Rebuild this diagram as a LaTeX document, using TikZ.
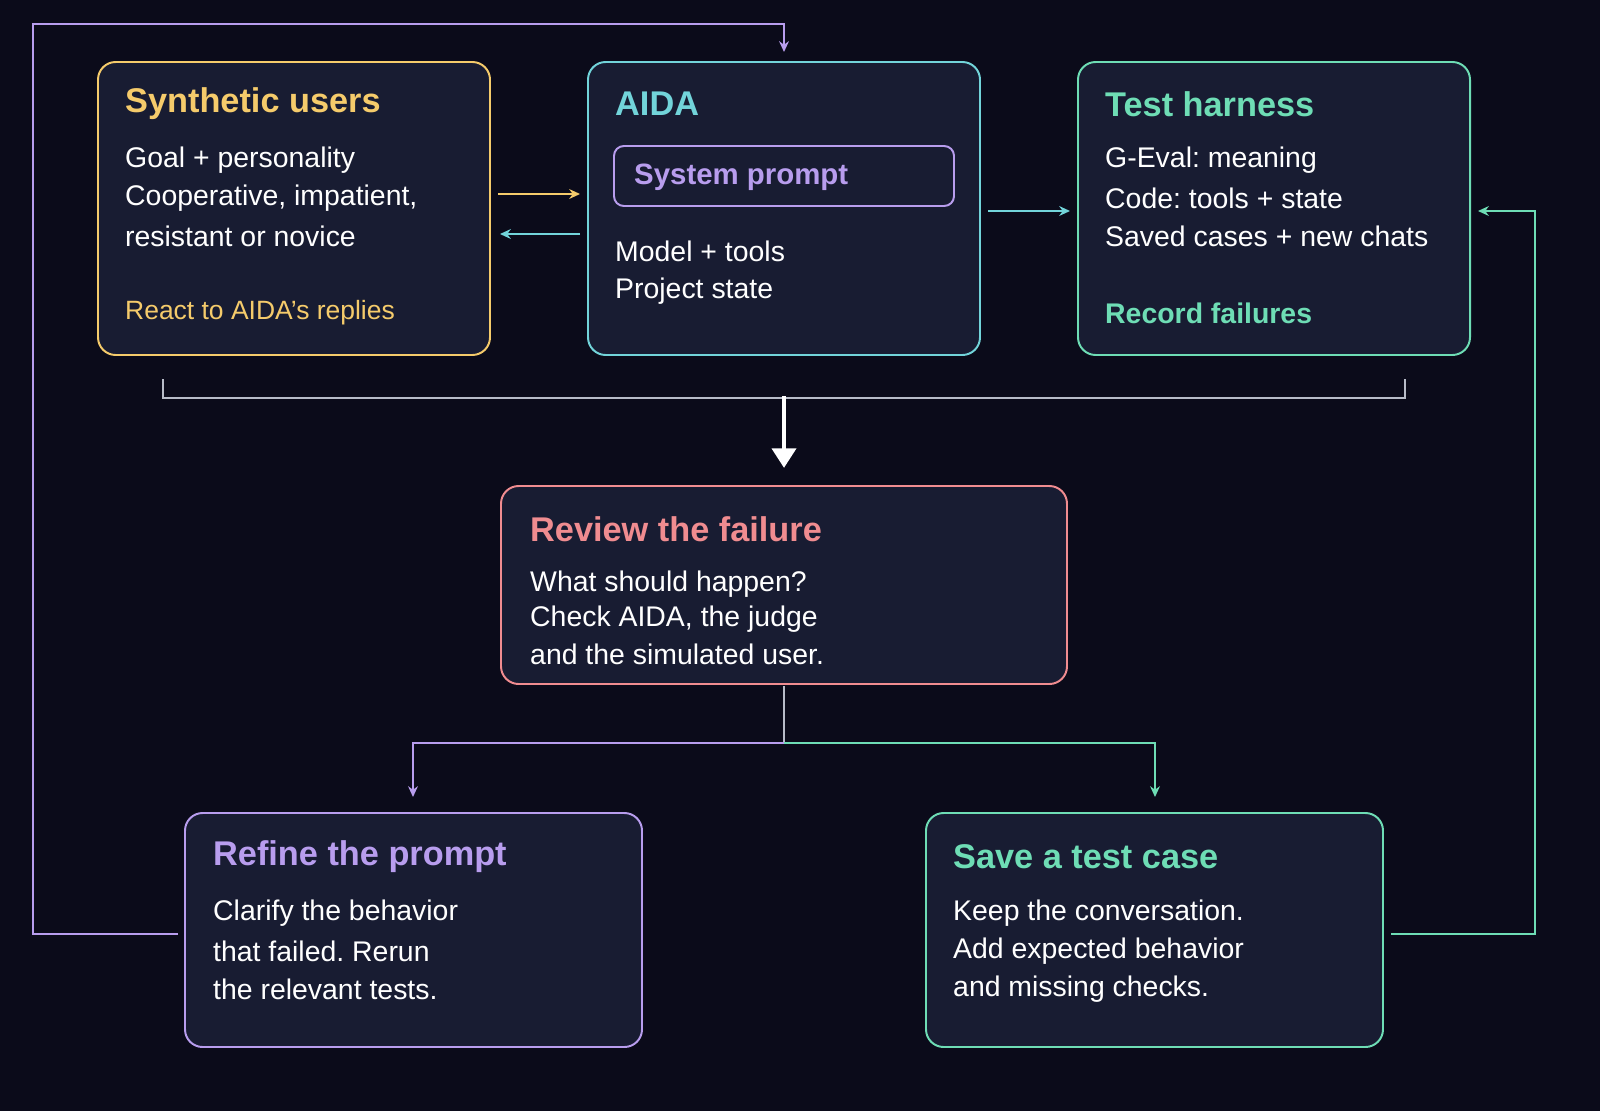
\documentclass[tikz,border=0pt]{standalone}
\usepackage{fontspec}
\setmainfont{Liberation Sans}
\frenchspacing
\usetikzlibrary{arrows.meta}
\definecolor{bg}{HTML}{0B0B1A}
\definecolor{boxf}{HTML}{181C32}
\definecolor{cy}{HTML}{F5CB6B}
\definecolor{ct}{HTML}{72D4DA}
\definecolor{cp}{HTML}{B89DEE}
\definecolor{cg}{HTML}{6EDDB5}
\definecolor{cr}{HTML}{F08C90}
\definecolor{cgray}{HTML}{B8BCC8}
\begin{document}
\begin{tikzpicture}[x=1.0204pt,y=-1.0204pt,
 box/.style={draw=#1,line width=2pt,rounded corners=18pt,fill=boxf},
 ttl/.style={anchor=west,font=\fontsize{35}{40}\selectfont\bfseries,inner sep=0},
 txt/.style={anchor=west,font=\fontsize{29}{33}\selectfont,text=white,inner sep=0},
 con/.style={line width=2.2pt},
 arr/.style={con,-{Stealth[length=11pt,width=10pt]}}]
\fill[bg] (0,0) rectangle (1600,1111);
% boxes
\draw[box=cy] (98,62) rectangle (490,355); \node (su) at (294,208) {};
\draw[box=ct] (588,62) rectangle (980,355); \node (ai) at (784,208) {};
\draw[box=cg] (1078,62) rectangle (1470,355); \node (th) at (1274,208) {};
\draw[box=cr] (501,486) rectangle (1067,684); \node (rv) at (784,585) {};
\draw[box=cp] (185,813) rectangle (642,1047); \node (rf) at (413,930) {};
\draw[box=cg] (926,813) rectangle (1383,1047); \node (sv) at (1155,930) {};
\draw[draw=cp,line width=2pt,rounded corners=10pt,fill=boxf] (614,146) rectangle (954,206);
% texts
\node[ttl,text=cy] (t1) at (125,104) {Synthetic users};
\node[txt] (a1) at (125,160) {Goal + personality};
\node[txt] (a2) at (125,198) {Cooperative, impatient,};
\node[txt] (a3) at (125,236) {resistant or novice};
\node[txt,text=cy,font=\fontsize{27}{30}\selectfont] (a4) at (125,313) {React to AIDA’s replies};
\node[ttl,text=ct] (t2) at (615,104) {AIDA};
\node[ttl,text=cp,font=\fontsize{30}{34}\selectfont\bfseries] (sp) at (634,177) {System prompt};
\node[txt] (b1) at (615,251) {Model + tools};
\node[txt] (b2) at (615,291) {Project state};
\node[ttl,text=cg] (t3) at (1105,104) {Test harness};
\node[txt] (c1) at (1105,160) {G-Eval: meaning};
\node[txt] (c2) at (1105,198) {Code: tools + state};
\node[txt] (c3) at (1105,236) {Saved cases + new chats};
\node[ttl,text=cg,font=\fontsize{29}{33}\selectfont\bfseries] (c4) at (1105,313) {Record failures};
\node[ttl,text=cr] (t4) at (530,529) {Review the failure};
\node[txt] (d1) at (530,584) {What should happen?};
\node[txt] (d2) at (530,619) {Check AIDA, the judge};
\node[txt] (d3) at (530,654) {and the simulated user.};
\node[ttl,text=cp] (t5) at (213,857) {Refine the prompt};
\node[txt] (e1) at (213,913) {Clarify the behavior};
\node[txt] (e2) at (213,951) {that failed. Rerun};
\node[txt] (e3) at (213,989) {the relevant tests.};
\node[ttl,text=cg] (t6) at (953,857) {Save a test case};
\node[txt] (f1) at (953,913) {Keep the conversation.};
\node[txt] (f2) at (953,951) {Add expected behavior};
\node[txt] (f3) at (953,989) {and missing checks.};
% connectors
\coordinate (y1) at (498,194); \coordinate (y2) at (580,194);
\draw[arr,cy] (y1) -- (y2);
\coordinate (t1a) at (580,234); \coordinate (t1b) at (500,234);
\draw[arr,ct] (t1a) -- (t1b);
\coordinate (h1) at (988,211); \coordinate (h2) at (1070,211);
\draw[arr,ct] (h1) -- (h2);
\coordinate (g1) at (163,379); \coordinate (g2) at (1405,379);
\draw[con,cgray] (g1) -- ++(0,19) -| (g2);
\coordinate (w1) at (784,396); \coordinate (w2) at (784,468);
\draw[line width=5pt,white,-{Triangle[length=20pt,width=24pt]}] (w1) -- (w2);
\coordinate (r0) at (784,686); \coordinate (r1) at (413,797); \coordinate (r2) at (1155,797);
\draw[con,cgray] (r0) -- (784,743);
\draw[arr,cp] (784,743) -| (r1);
\draw[arr,cg] (784,743) -| (r2);
\coordinate (p0) at (178,934); \coordinate (p1) at (784,52);
\draw[arr,cp] (p0) -- (33,934) |- (784,24) -- (p1);
\coordinate (q0) at (1391,934); \coordinate (q1) at (1478,211);
\draw[arr,cg] (q0) -- (1535,934) |- (q1);
\pgfresetboundingbox
\path[use as bounding box] (0,0) rectangle (1600,1111);
\end{tikzpicture}
\end{document}
